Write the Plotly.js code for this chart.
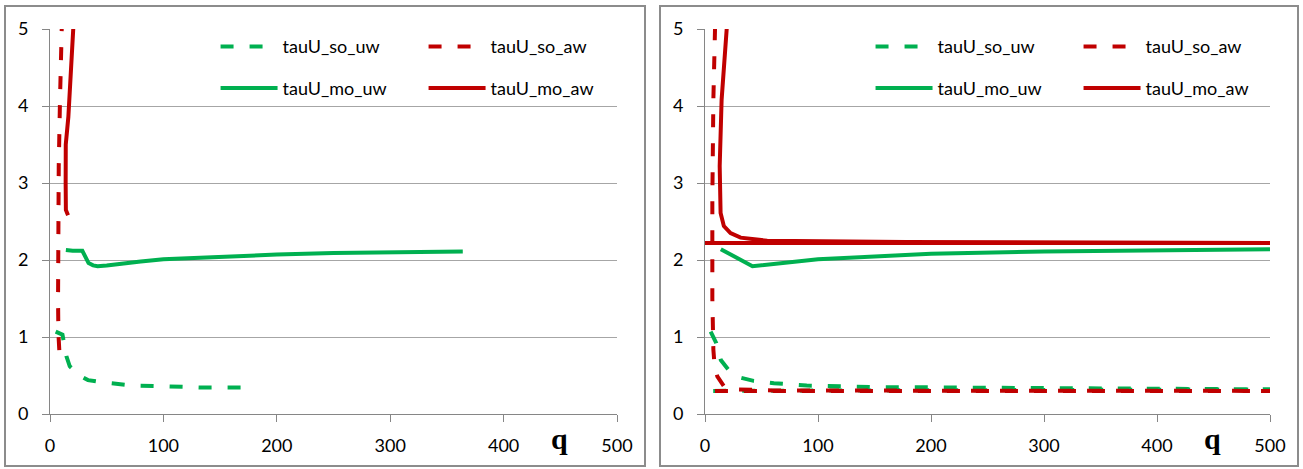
<!DOCTYPE html>
<html>
<head>
<meta charset="utf-8">
<script src="https://cdn.plot.ly/plotly-3.0.1.min.js"></script>
<style>
  html, body { margin: 0; padding: 0; background: #fff; }
  body { width: 1303px; height: 469px; position: relative; overflow: hidden; }
  .panel { position: absolute; border: 2px solid #8c8c8c; box-sizing: content-box; }
  #left { left: 4px; top: 5px; width: 638px; height: 458px; }
  #right { left: 659px; top: 5px; width: 636px; height: 458px; }
</style>
</head>
<body>
<div id="left" class="panel"></div>
<div id="right" class="panel"></div>
<script>
// ---------- data ----------
var seriesNames = ['tauU_so_uw', 'tauU_so_aw', 'tauU_mo_uw', 'tauU_mo_aw'];
var xTicks = [0, 100, 200, 300, 400, 500];
var yTicks = [0, 1, 2, 3, 4, 5];

// left panel
var L_so_uw_q = [5, 11, 14.5, 17.4, 26, 33.5, 47, 73, 103, 132, 182];
var L_so_uw_v = [1.07, 1.03, 0.75, 0.62, 0.50, 0.44, 0.41, 0.37, 0.36, 0.345, 0.345];
var L_so_aw_q = [8.2, 7.4, 7.1, 7.1, 7.7, 8.8, 10.3, 11];
var L_so_aw_v = [0.83, 1.05, 1.48, 2.35, 3.21, 4.07, 5.0, 5.4];
var L_mo_uw_q = [14, 20, 28.5, 31, 34, 38, 42, 50, 60, 80, 100, 130, 160, 200, 250, 300, 320, 364];
var L_mo_uw_v = [2.13, 2.12, 2.12, 2.05, 1.96, 1.93, 1.92, 1.93, 1.95, 1.98, 2.01, 2.03, 2.05, 2.07, 2.09, 2.10, 2.11, 2.11];
var L_mo_aw_q = [15.9, 14.0, 13.8, 13.9, 16.2, 18.2, 20.6, 22];
var L_mo_aw_v = [2.58, 2.65, 3.0, 3.5, 3.86, 4.5, 5.0, 5.4];

// right panel
var R_so_uw_q = [5, 10, 14, 21, 32, 43, 61, 90, 148, 240, 352, 500, 0];
var R_so_uw_v = [1.07, 0.92, 0.70, 0.57, 0.47, 0.43, 0.40, 0.37, 0.35, 0.34, 0.33, 0.32, 0.30];
var R_so_aw_q = [9.5, 8.6, 7.4, 6.5, 6.5, 7.4, 8.6, 10.9, 16.8, 28.6, 60, 500, 0];
var R_so_aw_v = [5.4, 5.0, 4.08, 2.79, 1.5, 0.84, 0.60, 0.49, 0.36, 0.32, 0.305, 0.30, 0.30];
var R_mo_uw_q = [14, 42, 100, 200, 300, 400, 500];
var R_mo_uw_v = [2.14, 1.92, 2.01, 2.08, 2.11, 2.13, 2.14];
var R_mo_aw_q = [20.5, 19.2, 14.7, 13.0, 13.8, 16.7, 22.6, 31.5, 55, 100, 178, 500, 0];
var R_mo_aw_v = [5.4, 5.0, 4.08, 3.22, 2.61, 2.44, 2.35, 2.29, 2.25, 2.24, 2.235, 2.22, 2.22];

// ---------- styling ----------
var GREEN = '#00b050', RED = '#c00000';
var DASH = '13px,16px';
var FONT = 'Lato, "Open Sans", sans-serif';

function makeTraces(d) {
  return [
    {x: d[0][0], y: d[0][1], name: seriesNames[0], legend: 'legend', mode: 'lines',
     line: {color: GREEN, width: 4, dash: DASH}},
    {x: d[1][0], y: d[1][1], name: seriesNames[1], legend: 'legend', mode: 'lines',
     line: {color: RED, width: 4, dash: DASH}},
    {x: d[2][0], y: d[2][1], name: seriesNames[2], legend: 'legend2', mode: 'lines',
     line: {color: GREEN, width: 4}},
    {x: d[3][0], y: d[3][1], name: seriesNames[3], legend: 'legend2', mode: 'lines',
     line: {color: RED, width: 4}}
  ].map(function (t) { t.hoverinfo = 'skip'; return t; });
}

function makeLayout(w, lx) {
  var legendBase = {
    orientation: 'h', x: lx, xanchor: 'left', yanchor: 'middle',
    entrywidth: 136, entrywidthmode: 'pixels', itemwidth: 57,
    bgcolor: 'rgba(0,0,0,0)', borderwidth: 0,
    font: {family: FONT, size: 18, color: '#000'}
  };
  var l1 = Object.assign({}, legendBase, {y: 0.954});
  var l2 = Object.assign({}, legendBase, {y: 0.846});
  return {
    width: w, height: 458,
    margin: {l: 44, r: 27, t: 22, b: 51, pad: 0, autoexpand: false},
    paper_bgcolor: '#fff', plot_bgcolor: '#fff',
    showlegend: true,
    legend: l1, legend2: l2,
    xaxis: {
      range: [0, 500], tickvals: xTicks, ticktext: xTicks.map(String), automargin: false,
      showgrid: false, zeroline: false, showline: true, linecolor: '#868686', linewidth: 1,
      ticks: 'outside', ticklen: 7, tickcolor: '#868686', tickwidth: 1,
      tickfont: {family: FONT, size: 18, color: '#000'}, ticklabelstandoff: 8, fixedrange: true
    },
    yaxis: {
      range: [0, 5], tickvals: yTicks, ticktext: yTicks.map(String), automargin: false,
      showgrid: true, gridcolor: '#a6a6a6', gridwidth: 1,
      zeroline: false, showline: true, linecolor: '#868686', linewidth: 1,
      ticks: 'outside', ticklen: 7, tickcolor: '#868686', tickwidth: 1,
      tickfont: {family: FONT, size: 18, color: '#000'}, ticklabelstandoff: 10, fixedrange: true
    },
    annotations: [{
      text: '<b>q</b>', xref: 'paper', yref: 'paper', x: 0.899, y: -0.064,
      xanchor: 'center', yanchor: 'middle', showarrow: false,
      font: {family: '"Liberation Serif", "Times New Roman", serif', size: 30, color: '#000'}
    }]
  };
}

var cfg = {staticPlot: true, displayModeBar: false};
Plotly.newPlot('left', makeTraces([
  [L_so_uw_q, L_so_uw_v], [L_so_aw_q, L_so_aw_v], [L_mo_uw_q, L_mo_uw_v], [L_mo_aw_q, L_mo_aw_v]
]), makeLayout(638, 0.292), cfg);
Plotly.newPlot('right', makeTraces([
  [R_so_uw_q, R_so_uw_v], [R_so_aw_q, R_so_aw_v], [R_mo_uw_q, R_mo_uw_v], [R_mo_aw_q, R_mo_aw_v]
]), makeLayout(636, 0.293), cfg);
</script>
</body>
</html>
